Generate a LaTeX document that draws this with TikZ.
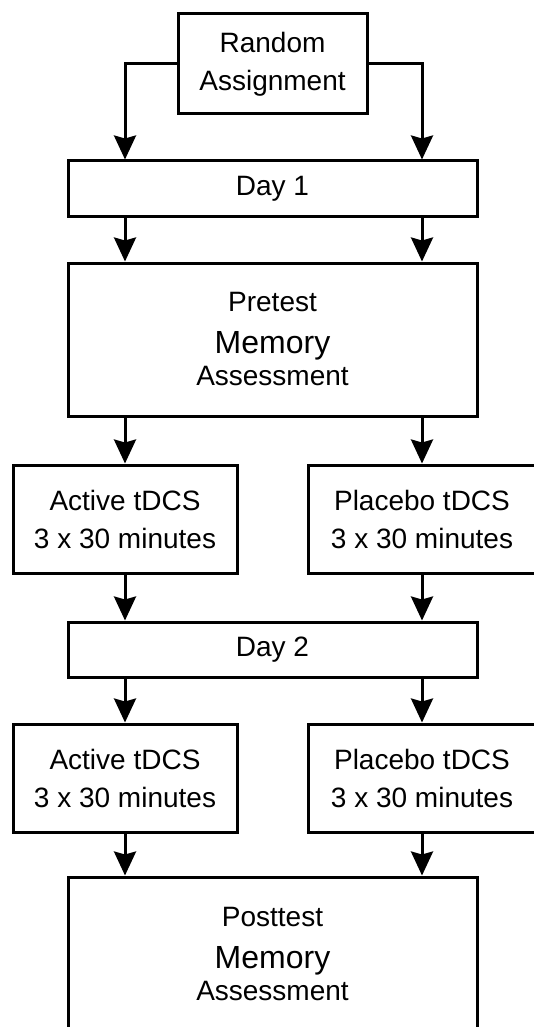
\documentclass[tikz,border=0pt]{standalone}
\usepackage{fontspec}
\setmainfont{Liberation Sans}
\usetikzlibrary{arrows.meta}

\newcommand{\bigword}[1]{{\fontsize{32}{38}\selectfont #1}}

\begin{document}
\begin{tikzpicture}[x=1pt,y=-1pt,
	box/.style={draw, line width=3pt, align=center, inner sep=0pt, font=\fontsize{28}{38}\selectfont},
	arr/.style={line width=3pt, -{Stealth[length=24pt,width=22pt,inset=3pt]}}]
	\useasboundingbox (0,0) rectangle (533,1027);

	\node[box, minimum width=189pt, minimum height=100pt] (rand) at (272.5,64) {Random\\Assignment};
	\node[box, minimum width=409pt, minimum height=55pt] (day1) at (272.5,188.5) {Day 1};
	\node[box, minimum width=409pt, minimum height=153pt] (pre) at (272.5,339.5) {Pretest\\[4pt]\bigword{Memory}\\[-6pt]Assessment};
	\node[box, minimum width=224pt, minimum height=108pt] (act1) at (125,519) {Active tDCS\\3 x 30 minutes};
	\node[box, minimum width=228pt, minimum height=108pt] (pla1) at (422,519) {Placebo tDCS\\3 x 30 minutes};
	\node[box, minimum width=409pt, minimum height=55pt] (day2) at (272.5,649.5) {Day 2};
	\node[box, minimum width=224pt, minimum height=108pt] (act2) at (125,778) {Active tDCS\\3 x 30 minutes};
	\node[box, minimum width=228pt, minimum height=108pt] (pla2) at (422,778) {Placebo tDCS\\3 x 30 minutes};
	\node[box, minimum width=409pt, minimum height=153pt] (post) at (272.5,953.5) {Posttest\\[4pt]\bigword{Memory}\\[-6pt]Assessment};

	\draw[arr] (rand.west) -| (day1.north -| act1.north);
	\draw[arr] (rand.east) -| (day1.north -| pla1.north);
	\path[arr] (day1.south -| act1.north) edge (pre.north -| act1.north);
	\path[arr] (day1.south -| pla1.north) edge (pre.north -| pla1.north);
	\path[arr] (pre.south -| act1.north) edge (act1.north);
	\path[arr] (pre.south -| pla1.north) edge (pla1.north);
	\path[arr] (act1.south) edge (day2.north -| act1.south);
	\path[arr] (pla1.south) edge (day2.north -| pla1.south);
	\path[arr] (day2.south -| act2.north) edge (act2.north);
	\path[arr] (day2.south -| pla2.north) edge (pla2.north);
	\path[arr] (act2.south) edge (post.north -| act2.south);
	\path[arr] (pla2.south) edge (post.north -| pla2.south);
\end{tikzpicture}
\end{document}
